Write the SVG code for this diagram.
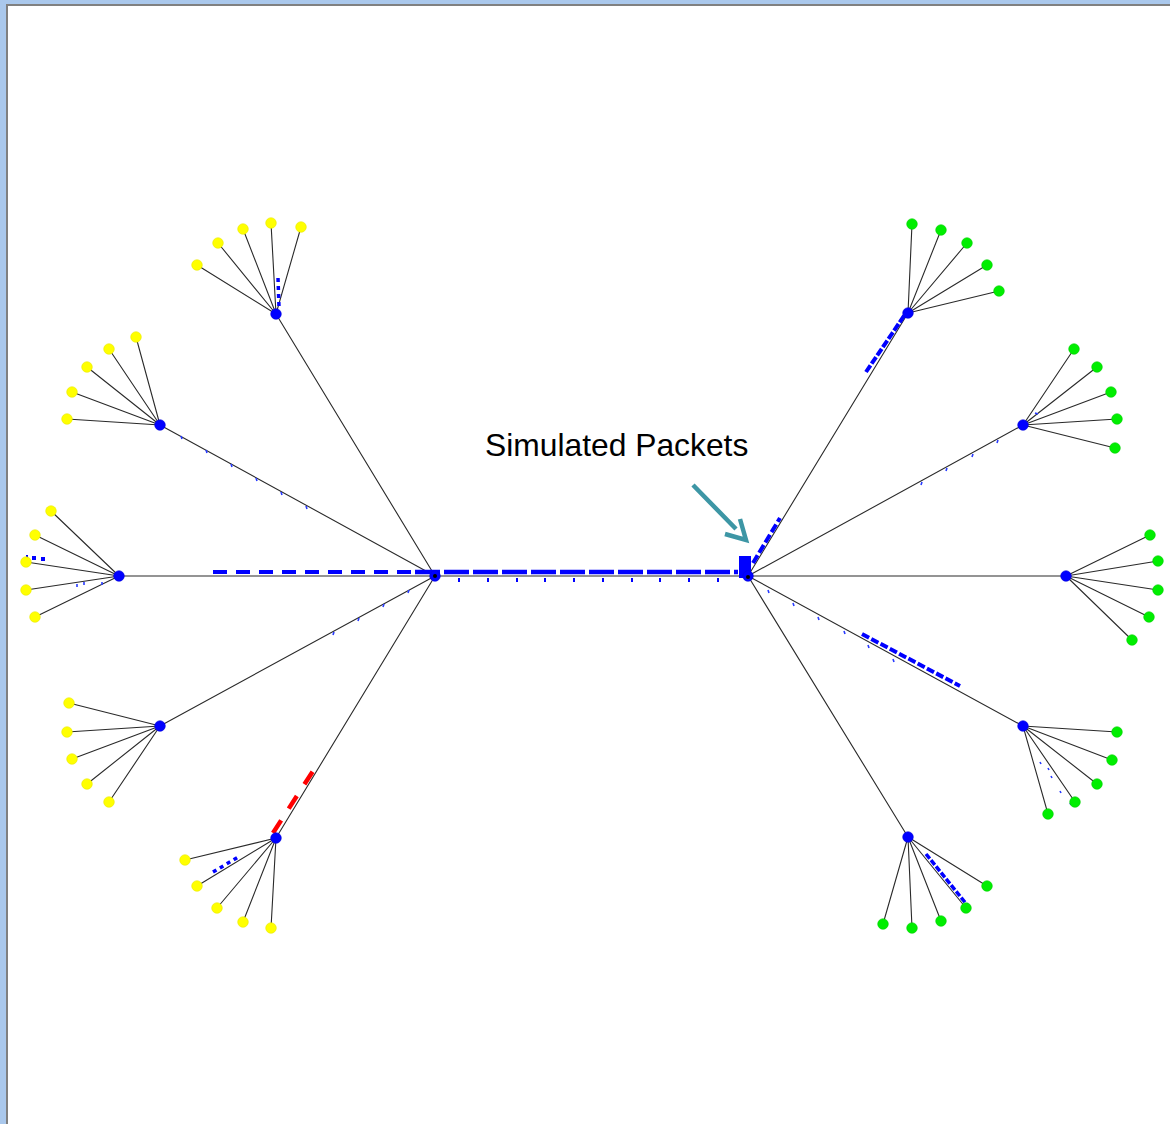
<svg xmlns="http://www.w3.org/2000/svg" width="1170" height="1124" viewBox="0 0 1170 1124">
<style>
.lk{stroke:#2a2a2a;stroke-width:1.1;fill:none}
.y{fill:#ffff00;stroke:#eaea00;stroke-width:0.6}
.g{fill:#00ee00;stroke:#00d000;stroke-width:0.6}
.h{fill:#0000ff;stroke:#0000dd;stroke-width:0.6}
.pk{stroke:#0000ff;fill:none}
.tk{stroke:#0000ff;stroke-width:2;fill:none}
.lt{stroke:#2a3cff;stroke-width:1.6;fill:none}
.lbl{font-family:"Liberation Sans",Arial,sans-serif;font-size:31.8px;fill:#000}
</style>
<rect x="0" y="0" width="1170" height="1124" fill="#aac8ec"/>
<rect x="6" y="4" width="1164" height="1120" fill="#808080"/>
<rect x="8" y="6" width="1162" height="1118" fill="#ffffff"/>
<g id="connectors">
<path class="lk" d="M435 576L748 576M435 576L276 314M435 576L160 425M435 576L119 576M435 576L160 726M435 576L276 838M748 576L908 313M748 576L1023 425M748 576L1066 576M748 576L1023 726M748 576L908 837"/>
<path class="lk" d="M276 314L197 265M276 314L218 243M276 314L243 229M276 314L271 223M276 314L301 227"/>
<path class="lk" d="M160 425L67 419M160 425L72 392M160 425L87 367M160 425L109 349M160 425L136 337"/>
<path class="lk" d="M119 576L51 511M119 576L35 535M119 576L26 562M119 576L26 590M119 576L35 617"/>
<path class="lk" d="M160 726L69 703M160 726L67 732M160 726L72 759M160 726L87 784M160 726L109 802"/>
<path class="lk" d="M276 838L185 860M276 838L197 886M276 838L217 908M276 838L243 922M276 838L271 928"/>
<path class="lk" d="M908 313L912 224M908 313L941 230M908 313L967 243M908 313L987 265M908 313L999 291"/>
<path class="lk" d="M1023 425L1074 349M1023 425L1097 367M1023 425L1111 392M1023 425L1117 419M1023 425L1115 448"/>
<path class="lk" d="M1066 576L1150 535M1066 576L1158 561M1066 576L1158 590M1066 576L1149 617M1066 576L1132 640"/>
<path class="lk" d="M1023 726L1117 732M1023 726L1112 760M1023 726L1097 784M1023 726L1075 802M1023 726L1048 814"/>
<path class="lk" d="M908 837L987 886M908 837L966 908M908 837L941 921M908 837L912 928M908 837L883 924"/>
</g>
<g id="packets">
<line class="pk" x1="213" y1="572" x2="434" y2="572" stroke-width="4" stroke-dasharray="14,9"/>
<line class="pk" x1="415" y1="572" x2="738" y2="572" stroke-width="4.5" stroke-dasharray="25,4"/>
<rect x="739" y="556" width="12" height="22" fill="#0000ff"/>
<path class="tk" d="M459 578v4M488 578v4M517 578v4M545 578v4M574 578v4M603 578v4M632 578v4M660 578v4M689 578v4M718 578v4"/>
<line class="pk" x1="753" y1="563" x2="780" y2="518" stroke-width="4" stroke-dasharray="9,3"/>
<line class="pk" x1="866" y1="372" x2="906" y2="313" stroke-width="4" stroke-dasharray="8,2"/>
<line class="pk" x1="862" y1="634" x2="960" y2="686" stroke-width="4" stroke-dasharray="8,2.5"/>
<line class="pk" x1="926" y1="854" x2="968" y2="906" stroke-width="3.5" stroke-dasharray="6,2"/>
<line class="pk" x1="278" y1="278" x2="279" y2="307" stroke-width="3.5" stroke-dasharray="4,4"/>
<line class="pk" x1="213" y1="872" x2="240" y2="856" stroke-width="3.5" stroke-dasharray="4,4"/>
<rect x="32" y="556" width="4" height="4" fill="#0000ff"/>
<rect x="41" y="557" width="4" height="4" fill="#0000ff"/>
<path class="tk" d="M27 555v4" stroke-width="1.2"/>
<line x1="273" y1="833" x2="313" y2="771" stroke="#ff0000" stroke-width="4.5" stroke-dasharray="15,14"/>
<path class="lt" d="M77 584v3M84 582v3M102 582v3"/>
<path class="lt" d="M181 436l1 3M206 450l1 3M231 464l1 3M256 478l1 3M281 492l1 3M306 506l1 3"/>
<path class="lt" d="M334 632l-1 3M359 618l-1 3M384 604l-1 3M409 590l-1 3"/>
<path class="lt" d="M922 482l-1 3M947 468l-1 3M973 454l-1 3M998 440l-1 3"/>
<path class="lt" d="M768 590l1 3M793 603l1 3M818 617l1 3M844 631l1 3M868 645l1 3M893 659l1 3"/>
<path class="lt" d="M1040 762l1 2M1048 768l1 2M1051 776l1 2M1060 791l1 2M1070 803l1 2M1035 413l3 1"/>
</g>
<g id="nodes">
<g id="left-yellow">
<circle class="y" cx="197" cy="265" r="5.3"/><circle class="y" cx="218" cy="243" r="5.3"/><circle class="y" cx="243" cy="229" r="5.3"/><circle class="y" cx="271" cy="223" r="5.3"/><circle class="y" cx="301" cy="227" r="5.3"/>
<circle class="y" cx="67" cy="419" r="5.3"/><circle class="y" cx="72" cy="392" r="5.3"/><circle class="y" cx="87" cy="367" r="5.3"/><circle class="y" cx="109" cy="349" r="5.3"/><circle class="y" cx="136" cy="337" r="5.3"/>
<circle class="y" cx="51" cy="511" r="5.3"/><circle class="y" cx="35" cy="535" r="5.3"/><circle class="y" cx="26" cy="562" r="5.3"/><circle class="y" cx="26" cy="590" r="5.3"/><circle class="y" cx="35" cy="617" r="5.3"/>
<circle class="y" cx="69" cy="703" r="5.3"/><circle class="y" cx="67" cy="732" r="5.3"/><circle class="y" cx="72" cy="759" r="5.3"/><circle class="y" cx="87" cy="784" r="5.3"/><circle class="y" cx="109" cy="802" r="5.3"/>
<circle class="y" cx="185" cy="860" r="5.3"/><circle class="y" cx="197" cy="886" r="5.3"/><circle class="y" cx="217" cy="908" r="5.3"/><circle class="y" cx="243" cy="922" r="5.3"/><circle class="y" cx="271" cy="928" r="5.3"/>
</g>
<g id="right-green">
<circle class="g" cx="912" cy="224" r="5.3"/><circle class="g" cx="941" cy="230" r="5.3"/><circle class="g" cx="967" cy="243" r="5.3"/><circle class="g" cx="987" cy="265" r="5.3"/><circle class="g" cx="999" cy="291" r="5.3"/>
<circle class="g" cx="1074" cy="349" r="5.3"/><circle class="g" cx="1097" cy="367" r="5.3"/><circle class="g" cx="1111" cy="392" r="5.3"/><circle class="g" cx="1117" cy="419" r="5.3"/><circle class="g" cx="1115" cy="448" r="5.3"/>
<circle class="g" cx="1150" cy="535" r="5.3"/><circle class="g" cx="1158" cy="561" r="5.3"/><circle class="g" cx="1158" cy="590" r="5.3"/><circle class="g" cx="1149" cy="617" r="5.3"/><circle class="g" cx="1132" cy="640" r="5.3"/>
<circle class="g" cx="1117" cy="732" r="5.3"/><circle class="g" cx="1112" cy="760" r="5.3"/><circle class="g" cx="1097" cy="784" r="5.3"/><circle class="g" cx="1075" cy="802" r="5.3"/><circle class="g" cx="1048" cy="814" r="5.3"/>
<circle class="g" cx="987" cy="886" r="5.3"/><circle class="g" cx="966" cy="908" r="5.3"/><circle class="g" cx="941" cy="921" r="5.3"/><circle class="g" cx="912" cy="928" r="5.3"/><circle class="g" cx="883" cy="924" r="5.3"/>
</g>
<g id="hubs">
<circle class="h" cx="435" cy="576" r="5.3"/><circle class="h" cx="748" cy="576" r="5.3"/>
<circle class="h" cx="276" cy="314" r="5.3"/><circle class="h" cx="160" cy="425" r="5.3"/><circle class="h" cx="119" cy="576" r="5.3"/><circle class="h" cx="160" cy="726" r="5.3"/><circle class="h" cx="276" cy="838" r="5.3"/>
<circle class="h" cx="908" cy="313" r="5.3"/><circle class="h" cx="1023" cy="425" r="5.3"/><circle class="h" cx="1066" cy="576" r="5.3"/><circle class="h" cx="1023" cy="726" r="5.3"/><circle class="h" cx="908" cy="837" r="5.3"/>
<circle cx="435" cy="576" r="2" fill="#000"/><circle cx="748" cy="577" r="2" fill="#000"/>
</g>
</g>
<g id="label">
<text class="lbl" x="485" y="456">Simulated Packets</text>
<path d="M693 485L736 529M740 519L746 540L725 534" stroke="#3d96a5" stroke-width="4.5" fill="none"/>
</g>
</svg>
